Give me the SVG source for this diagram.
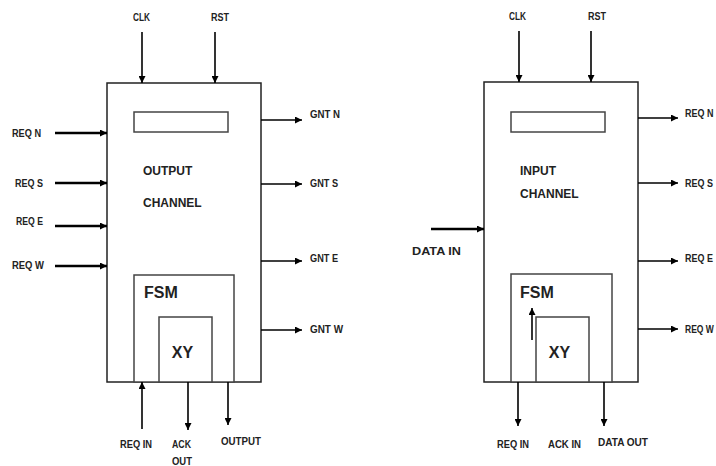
<svg xmlns="http://www.w3.org/2000/svg" width="716" height="466" viewBox="0 0 716 466">
<defs>
<marker id="ah" markerWidth="7" markerHeight="7" refX="7" refY="3.5" orient="auto" markerUnits="userSpaceOnUse"><path d="M0,0 L7,3.5 L0,7 z" fill="#000"/></marker>
<style>
.box{fill:#fff;stroke:#222;stroke-width:1.5}
.inner{fill:#fff;stroke:#444;stroke-width:1.5}
.w{stroke:#000;stroke-width:1.6;fill:none;marker-end:url(#ah)}
.t{stroke:#000;stroke-width:2.4;fill:none;marker-end:url(#ah)}
.lbl{font-family:"Liberation Sans",Arial,sans-serif;font-weight:bold;font-size:11.5px;fill:#222}
.mid{font-family:"Liberation Sans",Arial,sans-serif;font-weight:bold;font-size:12px;fill:#222}
.big{font-family:"Liberation Sans",Arial,sans-serif;font-weight:bold;font-size:16px;fill:#222}
</style>
</defs>
<rect width="716" height="466" fill="#fff"/>

<g id="output-channel">
<rect class="box" x="107" y="83" width="154" height="299"/>
<rect class="inner" x="134" y="112" width="94" height="20"/>
<text class="mid" x="143" y="175">OUTPUT</text>
<text class="mid" x="143" y="207">CHANNEL</text>
</g>
<g id="fsm-left">
<rect class="inner" x="134" y="275" width="100" height="107"/>
<text class="big" x="144" y="298">FSM</text>
</g>
<g id="xy-left">
<rect class="inner" x="159" y="317" width="53" height="65"/>
<text class="big" x="182.5" y="358" text-anchor="middle">XY</text>
</g>

<g id="input-channel">
<rect class="box" x="484" y="82" width="154" height="300"/>
<rect class="inner" x="511" y="112" width="94" height="20"/>
<text class="mid" x="520" y="175">INPUT</text>
<text class="mid" x="520" y="198">CHANNEL</text>
</g>
<g id="fsm-right">
<rect class="inner" x="511" y="274" width="101" height="108"/>
<text class="big" x="520" y="298">FSM</text>
</g>
<g id="xy-right">
<rect class="inner" x="536" y="317" width="53" height="65"/>
<text class="big" x="559.5" y="358" text-anchor="middle">XY</text>
</g>

<g id="connectors">
<line class="w" x1="142" y1="32" x2="142" y2="83"/>
<line class="w" x1="215" y1="32" x2="215" y2="83"/>
<line class="t" x1="55" y1="133" x2="107" y2="133"/>
<line class="t" x1="55" y1="183" x2="107" y2="183"/>
<line class="t" x1="55" y1="226" x2="107" y2="226"/>
<line class="t" x1="55" y1="266" x2="107" y2="266"/>
<line class="w" x1="261" y1="120" x2="302" y2="120"/>
<line class="w" x1="261" y1="184" x2="302" y2="184"/>
<line class="w" x1="261" y1="261" x2="302" y2="261"/>
<line class="w" x1="261" y1="330" x2="302" y2="330"/>
<line class="w" x1="142" y1="429" x2="142" y2="382"/>
<line class="w" x1="188" y1="382" x2="188" y2="430"/>
<line class="w" x1="228" y1="382" x2="228" y2="425"/>

<line class="w" x1="519" y1="31" x2="519" y2="82"/>
<line class="w" x1="591" y1="31" x2="591" y2="82"/>
<line class="t" x1="431" y1="229" x2="484" y2="229"/>
<line class="w" x1="638" y1="118" x2="678" y2="118"/>
<line class="w" x1="638" y1="183" x2="678" y2="183"/>
<line class="w" x1="638" y1="261" x2="678" y2="261"/>
<line class="w" x1="638" y1="329" x2="678" y2="329"/>
<line class="w" x1="532" y1="340" x2="532" y2="308"/>
<line class="w" x1="518" y1="382" x2="518" y2="426"/>
<line class="w" x1="604" y1="382" x2="604" y2="426"/>
</g>

<g id="labels">
<text class="lbl" x="133" y="21" textLength="17" lengthAdjust="spacingAndGlyphs">CLK</text>
<text class="lbl" x="211" y="21" textLength="18" lengthAdjust="spacingAndGlyphs">RST</text>
<text class="lbl" x="12" y="137" textLength="29" lengthAdjust="spacingAndGlyphs">REQ N</text>
<text class="lbl" x="15" y="187" textLength="28" lengthAdjust="spacingAndGlyphs">REQ S</text>
<text class="lbl" x="16" y="225" textLength="27" lengthAdjust="spacingAndGlyphs">REQ E</text>
<text class="lbl" x="12" y="269" textLength="32" lengthAdjust="spacingAndGlyphs">REQ W</text>
<text class="lbl" x="310" y="118" textLength="30" lengthAdjust="spacingAndGlyphs">GNT N</text>
<text class="lbl" x="310" y="187" textLength="28" lengthAdjust="spacingAndGlyphs">GNT S</text>
<text class="lbl" x="310" y="262" textLength="28" lengthAdjust="spacingAndGlyphs">GNT E</text>
<text class="lbl" x="310" y="333" textLength="33" lengthAdjust="spacingAndGlyphs">GNT W</text>
<text class="lbl" x="120" y="448" textLength="32" lengthAdjust="spacingAndGlyphs">REQ IN</text>
<text class="lbl" x="172" y="448" textLength="19" lengthAdjust="spacingAndGlyphs">ACK</text>
<text class="lbl" x="172" y="465" textLength="20" lengthAdjust="spacingAndGlyphs">OUT</text>
<text class="lbl" x="221" y="445" textLength="40" lengthAdjust="spacingAndGlyphs">OUTPUT</text>

<text class="lbl" x="509" y="20" textLength="17" lengthAdjust="spacingAndGlyphs">CLK</text>
<text class="lbl" x="588" y="20" textLength="18" lengthAdjust="spacingAndGlyphs">RST</text>
<text class="lbl" x="412" y="255" textLength="49" lengthAdjust="spacingAndGlyphs">DATA IN</text>
<text class="lbl" transform="translate(685 117) scale(0.78 1)">REQ N</text>
<text class="lbl" transform="translate(685 187) scale(0.78 1)">REQ S</text>
<text class="lbl" transform="translate(685 262) scale(0.78 1)">REQ E</text>
<text class="lbl" transform="translate(685 333) scale(0.74 1)">REQ W</text>
<text class="lbl" x="497" y="448" textLength="32" lengthAdjust="spacingAndGlyphs">REQ IN</text>
<text class="lbl" x="548" y="448" textLength="33" lengthAdjust="spacingAndGlyphs">ACK IN</text>
<text class="lbl" x="598" y="446" textLength="50" lengthAdjust="spacingAndGlyphs">DATA OUT</text>
</g>
</svg>
